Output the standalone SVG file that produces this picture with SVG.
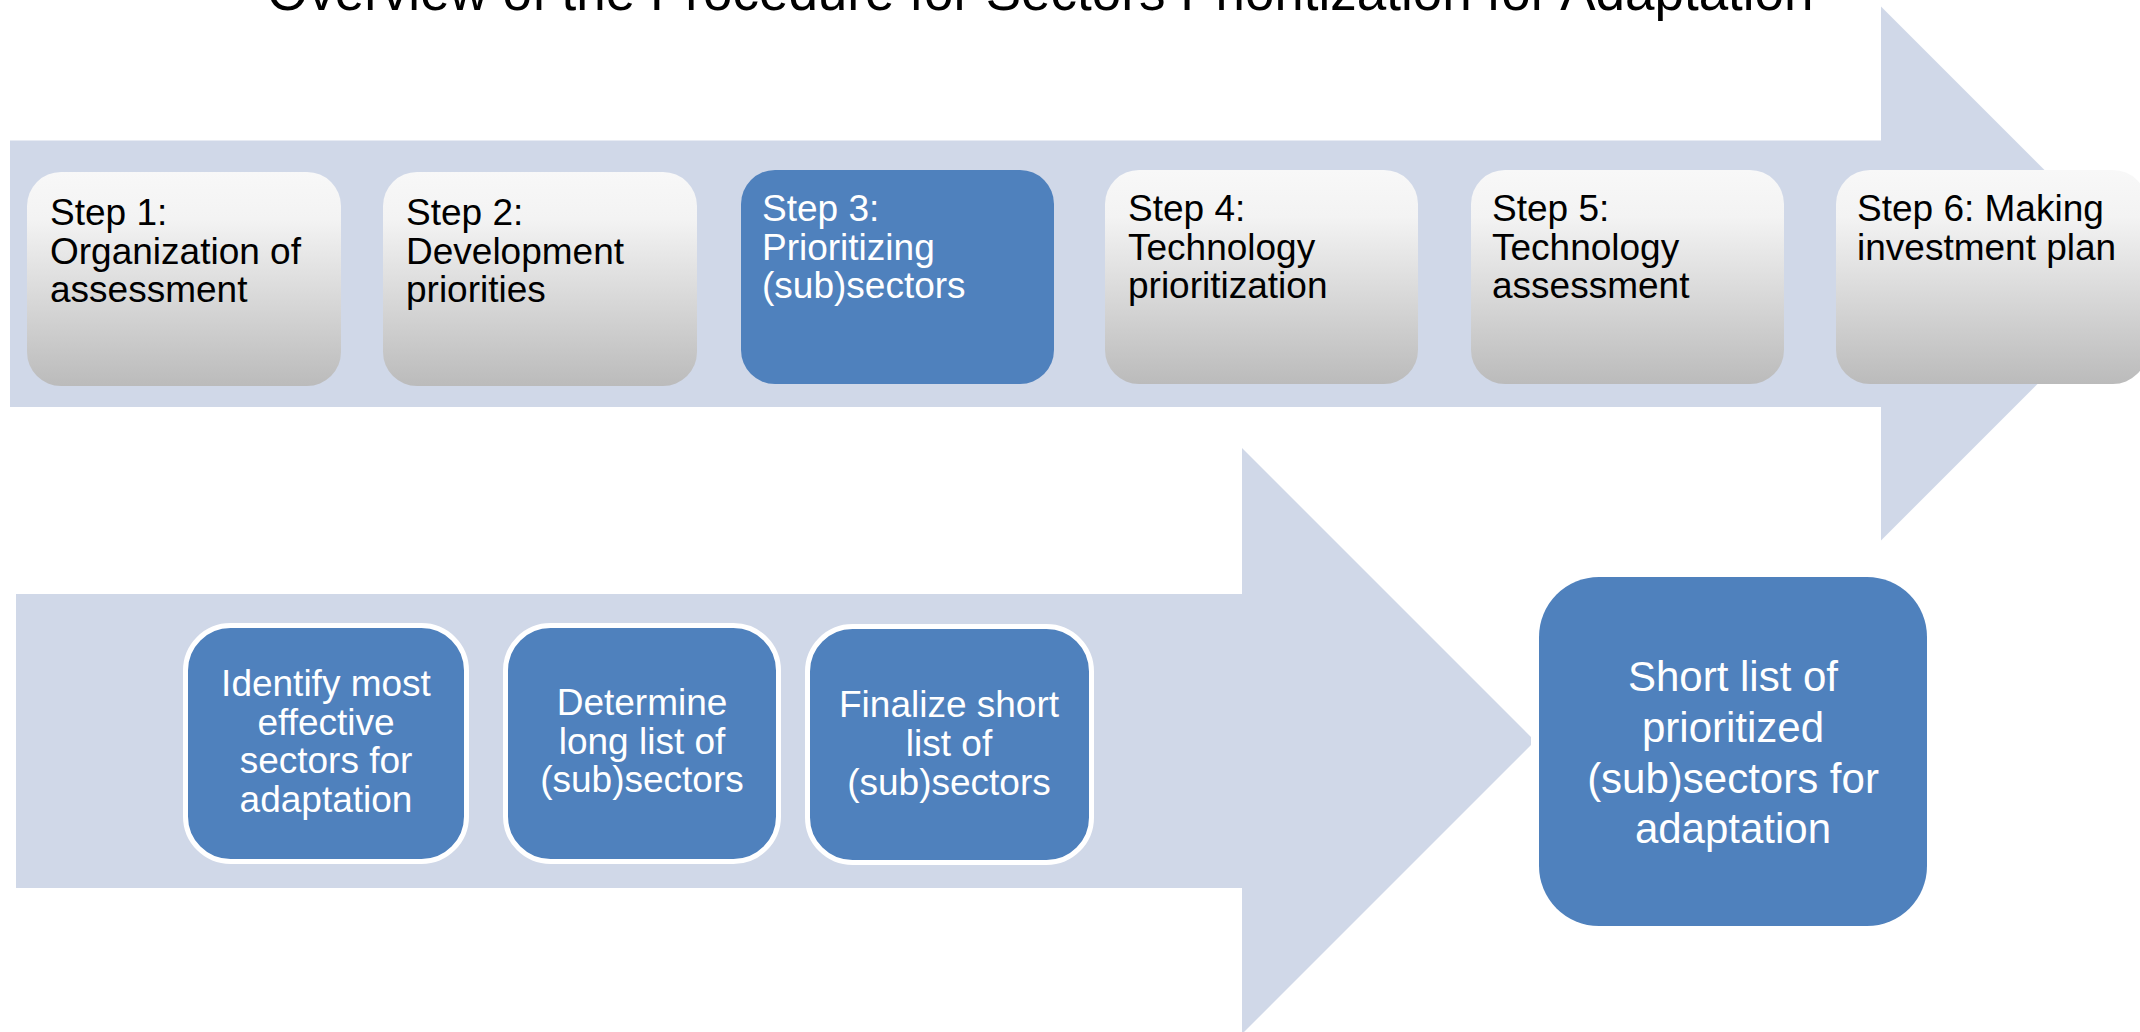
<svg xmlns="http://www.w3.org/2000/svg" width="2140" height="1032" viewBox="0 0 2140 1032">
<defs>
<linearGradient id="gray" x1="0" y1="0" x2="0" y2="1">
<stop offset="0" stop-color="#F8F8F8"/>
<stop offset="0.22" stop-color="#F3F3F3"/>
<stop offset="1" stop-color="#BBBBBB"/>
</linearGradient>
<style>
.band{fill:#D0D8E8;}
.gbox{fill:url(#gray);}
.bbox{fill:#4F81BD;}
.wbox{fill:#4F81BD;stroke:#FFFFFF;stroke-width:5;}
text{font-family:"Liberation Sans",Arial,sans-serif;}
.dk{fill:#000000;font-size:37px;}
.lt{fill:#FFFFFF;font-size:37px;}
.ctr{fill:#FFFFFF;font-size:37px;text-anchor:middle;}
.big{fill:#FFFFFF;font-size:42px;text-anchor:middle;}
.title{fill:#000000;font-size:53px;}
</style>
</defs>
<rect width="2140" height="1032" fill="#FFFFFF"/>
<text class="title" x="267" y="10">Overview of the Procedure for Sectors Prioritization for Adaptation</text>
<g id="connectors">
<polygon class="band" points="10,140.5 1881,140.5 1881,6.5 2148,273.5 1881,540.5 1881,407 10,407"/>
<polygon class="band" points="16,594 1242,594 1242,448 1531,737 1531,745 1242,1034 1242,888 16,888"/>
</g>
<g id="step1">
<rect class="gbox" x="27" y="172" width="314" height="214" rx="34"/>
<text class="dk" x="50" y="225">Step 1:</text>
<text class="dk" x="50" y="263.5">Organization of</text>
<text class="dk" x="50" y="302">assessment</text>
</g>
<g id="step2">
<rect class="gbox" x="383" y="172" width="314" height="214" rx="34"/>
<text class="dk" x="406" y="225">Step 2:</text>
<text class="dk" x="406" y="263.5">Development</text>
<text class="dk" x="406" y="302">priorities</text>
</g>
<g id="step3">
<rect class="bbox" x="741" y="170" width="313" height="214" rx="34"/>
<text class="lt" x="762" y="221">Step 3:</text>
<text class="lt" x="762" y="259.5">Prioritizing</text>
<text class="lt" x="762" y="298">(sub)sectors</text>
</g>
<g id="step4">
<rect class="gbox" x="1105" y="170" width="313" height="214" rx="34"/>
<text class="dk" x="1128" y="221">Step 4:</text>
<text class="dk" x="1128" y="259.5">Technology</text>
<text class="dk" x="1128" y="298">prioritization</text>
</g>
<g id="step5">
<rect class="gbox" x="1471" y="170" width="313" height="214" rx="34"/>
<text class="dk" x="1492" y="221">Step 5:</text>
<text class="dk" x="1492" y="259.5">Technology</text>
<text class="dk" x="1492" y="298">assessment</text>
</g>
<g id="step6">
<rect class="gbox" x="1836" y="170" width="311" height="214" rx="34"/>
<text class="dk" x="1857" y="221">Step 6: Making</text>
<text class="dk" x="1857" y="259.5">investment plan</text>
</g>
<g id="identify">
<rect class="wbox" x="185.5" y="625.5" width="281" height="236" rx="45"/>
<text class="ctr" x="326" y="696">Identify most</text>
<text class="ctr" x="326" y="734.5">effective</text>
<text class="ctr" x="326" y="773">sectors for</text>
<text class="ctr" x="326" y="811.5">adaptation</text>
</g>
<g id="longlist">
<rect class="wbox" x="505.5" y="625.5" width="273" height="236" rx="45"/>
<text class="ctr" x="642" y="715">Determine</text>
<text class="ctr" x="642" y="753.5">long list of</text>
<text class="ctr" x="642" y="792">(sub)sectors</text>
</g>
<g id="shortlist">
<rect class="wbox" x="807.5" y="626.5" width="284" height="236" rx="45"/>
<text class="ctr" x="949" y="717">Finalize short</text>
<text class="ctr" x="949" y="755.5">list of</text>
<text class="ctr" x="949" y="794.5">(sub)sectors</text>
</g>
<g id="result">
<rect class="bbox" x="1539" y="577" width="388" height="349" rx="60"/>
<text class="big" x="1733" y="691">Short list of</text>
<text class="big" x="1733" y="741.5">prioritized</text>
<text class="big" x="1733" y="792.5">(sub)sectors for</text>
<text class="big" x="1733" y="843">adaptation</text>
</g>
</svg>
